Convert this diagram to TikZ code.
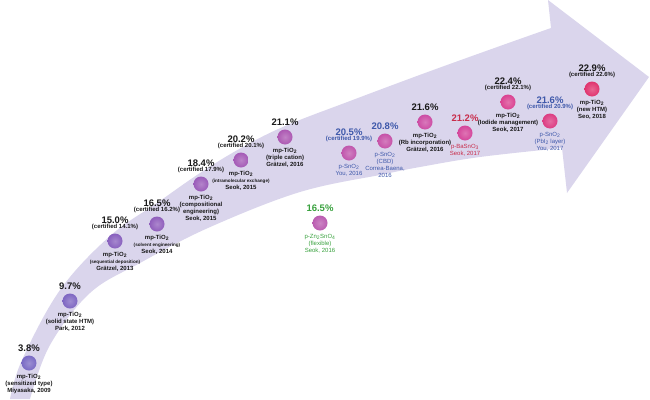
\documentclass[tikz,border=0pt]{standalone}
\usepackage{fontspec}
\setmainfont{Liberation Sans}
\usetikzlibrary{positioning}

\definecolor{band}{RGB}{218,213,236}
\definecolor{txtblack}{RGB}{25,25,25}
\definecolor{txtblue}{RGB}{62,88,170}
\definecolor{txtred}{RGB}{200,45,75}
\definecolor{txtgreen}{RGB}{55,160,60}
\definecolor{ca}{RGB}{122,106,196}
\definecolor{cb}{RGB}{126,102,194}
\definecolor{cc}{RGB}{136,96,190}
\definecolor{cd}{RGB}{144,94,188}
\definecolor{ce}{RGB}{154,92,185}
\definecolor{cf}{RGB}{164,90,182}
\definecolor{cg}{RGB}{172,88,178}
\definecolor{ch}{RGB}{192,86,172}
\definecolor{ci}{RGB}{198,82,168}
\definecolor{cj}{RGB}{204,76,164}
\definecolor{ck}{RGB}{212,70,155}
\definecolor{cl}{RGB}{218,66,145}
\definecolor{cm}{RGB}{220,60,130}
\definecolor{cn}{RGB}{224,52,110}
\definecolor{co}{RGB}{186,92,176}

\newcommand{\subnote}[1]{{\fontsize{4.6}{5}\selectfont #1}}

\tikzset{
  dot/.style={circle, inner sep=0pt, minimum size=15pt, shading=radial,
    inner color=#1!75!white, outer color=#1},
  pct/.style={inner sep=0pt, font=\bfseries\fontsize{9.5}{9.5}\selectfont, text=#1},
  pct/.default=txtblack,
  cert/.style={inner sep=0pt, font=\bfseries\fontsize{6}{6}\selectfont, text=#1},
  cert/.default=txtblack,
  desc/.style={inner sep=0pt, align=center, font=\bfseries\fontsize{6}{7.2}\selectfont, text=#1},
  desc/.default=txtblack,
  descc/.style={inner sep=0pt, align=center, font=\fontsize{6}{7.2}\selectfont, text=#1}
}

\begin{document}
\begin{tikzpicture}[x=1pt, y=-1pt]
\useasboundingbox (0,0) rectangle (650,399);
% the arrow
\fill[band] plot[smooth, tension=0.6] coordinates {(10,399) (22,360) (60,290) (110,236) (157,203) (200,173) (241,148) (285,126) (350,101) (425,73) (500,46) (551,28)}
  -- (548,0) -- (649,77) -- (567,193) -- (562,148)
  -- plot[smooth, tension=0.6] coordinates {(562,148) (480,157) (420,167) (385,174) (300,192) (208,228) (140,263) (90,293) (50,345) (30,399)} -- cycle;

% points
\node[dot=ca] (d1) at (29,363) {};
\node[dot=cb] (d2) at (70,301) {};
\node[dot=cc] (d3) at (115,241) {};
\node[dot=cd] (d4) at (157,224) {};
\node[dot=ce] (d5) at (201,184) {};
\node[dot=cf] (d6) at (241,160) {};
\node[dot=cg] (d7) at (285,137) {};
\node[dot=ch] (d8) at (349,153) {};
\node[dot=ci] (d9) at (385,141) {};
\node[dot=cj] (d10) at (425,122) {};
\node[dot=ck] (d11) at (465,133) {};
\node[dot=cl] (d12) at (508,102) {};
\node[dot=cm] (d13) at (550,121) {};
\node[dot=cn] (d14) at (592,89) {};
\node[dot=co] (d15) at (320,223) {};

% efficiencies
\node[pct, above=4pt of d1] (p1) {3.8\%};
\node[pct, above=4pt of d2] (p2) {9.7\%};
\node[cert, above=3pt of d3] (c3) {(certified 14.1\%)};
\node[pct, above=1pt of c3] (p3) {15.0\%};
\node[cert, above=3pt of d4] (c4) {(certified 16.2\%)};
\node[pct, above=1pt of c4] (p4) {16.5\%};
\node[cert, above=3pt of d5] (c5) {(certified 17.9\%)};
\node[pct, above=1pt of c5] (p5) {18.4\%};
\node[cert, above=3pt of d6] (c6) {(certified 20.1\%)};
\node[pct, above=1pt of c6] (p6) {20.2\%};
\node[pct, above=4pt of d7] (p7) {21.1\%};
\node[cert=txtblue, above=3pt of d8] (c8) {(certified 19.9\%)};
\node[pct=txtblue, above=1pt of c8] (p8) {20.5\%};
\node[pct=txtblue, above=4pt of d9] (p9) {20.8\%};
\node[pct, above=4pt of d10] (p10) {21.6\%};
\node[pct=txtred, above=4pt of d11] (p11) {21.2\%};
\node[cert, above=3pt of d12] (c12) {(certified 22.1\%)};
\node[pct, above=1pt of c12] (p12) {22.4\%};
\node[cert=txtblue, above=3pt of d13] (c13) {(certified 20.9\%)};
\node[pct=txtblue, above=1pt of c13] (p13) {21.6\%};
\node[cert, above=3pt of d14] (c14) {(certified 22.6\%)};
\node[pct, above=1pt of c14] (p14) {22.9\%};
\node[pct=txtgreen, above=4pt of d15] (p15) {16.5\%};

% devices
\node[desc, below=3pt of d1] (t1) {mp-TiO\textsubscript{2}\\(sensitized type)\\Miyasaka, 2009};
\node[desc, below=3pt of d2] (t2) {mp-TiO\textsubscript{2}\\(solid state HTM)\\Park, 2012};
\node[desc, below=3pt of d3] (t3) {mp-TiO\textsubscript{2}\\\subnote{(sequential deposition)}\\Grätzel, 2013};
\node[desc, below=3pt of d4] (t4) {mp-TiO\textsubscript{2}\\\subnote{(solvent engineering)}\\Seok, 2014};
\node[desc, below=3pt of d5] (t5) {mp-TiO\textsubscript{2}\\(compositional\\engineering)\\Seok, 2015};
\node[desc, below=3pt of d6] (t6) {mp-TiO\textsubscript{2}\\\subnote{(intramolecular exchange)}\\Seok, 2015};
\node[desc, below=3pt of d7] (t7) {mp-TiO\textsubscript{2}\\(triple cation)\\Grätzel, 2016};
\node[descc=txtblue, below=3pt of d8] (t8) {p-SnO\textsubscript{2}\\You, 2016};
\node[descc=txtblue, below=3pt of d9] (t9) {p-SnO\textsubscript{2}\\(CBD)\\Correa-Baena,\\2016};
\node[desc, below=3pt of d10] (t10) {mp-TiO\textsubscript{2}\\(Rb incorporation)\\Grätzel, 2016};
\node[descc=txtred, below=3pt of d11] (t11) {p-BaSnO\textsubscript{3}\\Seok, 2017};
\node[desc, below=3pt of d12] (t12) {mp-TiO\textsubscript{2}\\(Iodide management)\\Seok, 2017};
\node[descc=txtblue, below=3pt of d13] (t13) {p-SnO\textsubscript{2}\\(PbI\textsubscript{2} layer)\\You, 2017};
\node[desc, below=3pt of d14] (t14) {mp-TiO\textsubscript{2}\\(new HTM)\\Seo, 2018};
\node[descc=txtgreen, below=3pt of d15] (t15) {p-Zn\textsubscript{2}SnO\textsubscript{4}\\(flexible)\\Seok, 2016};
\end{tikzpicture}
\end{document}
